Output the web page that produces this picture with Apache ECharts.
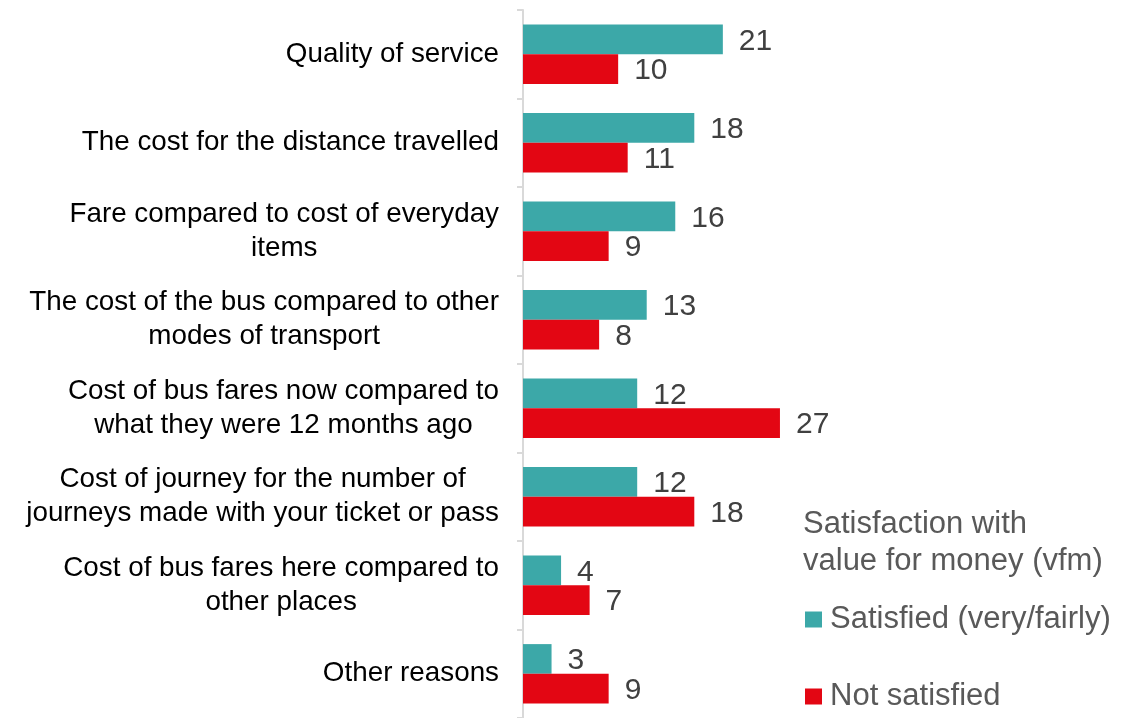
<!DOCTYPE html>
<html lang="en">

<head>
  <meta charset="UTF-8">
  <script src="https://cdn.jsdelivr.net/npm/echarts@6.0.0/dist/echarts.min.js"></script>
  <title>Satisfaction with value for money</title>
  <style>
    html, body { margin: 0; padding: 0; background: #fff; }
    .container { width: 1141px; height: 718px; }
  </style>
</head>

<body>
  <div class="container"></div>

  <script>
    const categories = [
      "Quality of service",
      "The cost for the distance travelled",
      "Fare compared to cost of everyday\nitems",
      "The cost of the bus compared to other\nmodes of transport",
      "Cost of bus fares now compared to\nwhat they were 12 months ago",
      "Cost of journey for the number of\njourneys made with your ticket or pass",
      "Cost of bus fares here compared to\nother places",
      "Other reasons",
    ];
    const satisfied = [21, 18, 16, 13, 12, 12, 4, 3];
    const notSatisfied = [10, 11, 9, 8, 27, 18, 7, 9];

    const font = "Liberation Sans, Arial, sans-serif";

    const valueLabel = {
      show: true,
      position: "right",
      distance: 16,
      offset: [0, 2],
      fontSize: 30,
      fontFamily: font,
      color: "#404040",
    };

    const chart = echarts.init(document.querySelector(".container"));
    const options = {
      animation: false,
      title: {
        text: "Satisfaction with\nvalue for money (vfm)",
        left: 803,
        top: 506,
        padding: 0,
        textStyle: {
          fontSize: 31,
          fontWeight: "normal",
          fontFamily: font,
          color: "#595959",
          lineHeight: 37,
        },
      },
      color: ["#3CA8A8", "#E30613"],
      legend: {
        orient: "vertical",
        left: 805,
        top: 604,
        padding: 0,
        icon: "rect",
        itemWidth: 17,
        itemHeight: 16,
        itemGap: 46,
        textStyle: {
          fontSize: 31,
          fontFamily: font,
          color: "#595959",
          padding: [0, 0, 0, 3],
        },
        data: ["Satisfied (very/fairly)", "Not satisfied"],
      },
      grid: {
        left: 523,
        top: 10,
        bottom: 0,
        right: 47,
      },
      xAxis: {
        type: "value",
        min: 0,
        max: 60,
        show: false,
      },
      yAxis: {
        type: "category",
        inverse: true,
        data: categories,
        axisLine: { show: true, lineStyle: { color: "#d9d9d9", width: 2 } },
        axisTick: { show: true, length: 6, lineStyle: { color: "#d9d9d9", width: 2 } },
        axisLabel: {
          margin: 24,
          formatter: (v) => v.split("\n").map((l) => "{c|" + l + "}").join("\n"),
          rich: {
            c: {
              align: "center",
              fontSize: 27.8,
              lineHeight: 34,
              fontFamily: font,
              color: "#000",
            },
          },
        },
      },
      series: [
        {
          name: "Satisfied (very/fairly)",
          type: "bar",
          data: satisfied,
          barCategoryGap: "33%",
          barGap: "0%",
          label: valueLabel,
        },
        {
          name: "Not satisfied",
          type: "bar",
          data: notSatisfied,
          barCategoryGap: "33%",
          barGap: "0%",
          label: valueLabel,
        },
      ],
    };

    chart.setOption(options);
  </script>
</body>

</html>
